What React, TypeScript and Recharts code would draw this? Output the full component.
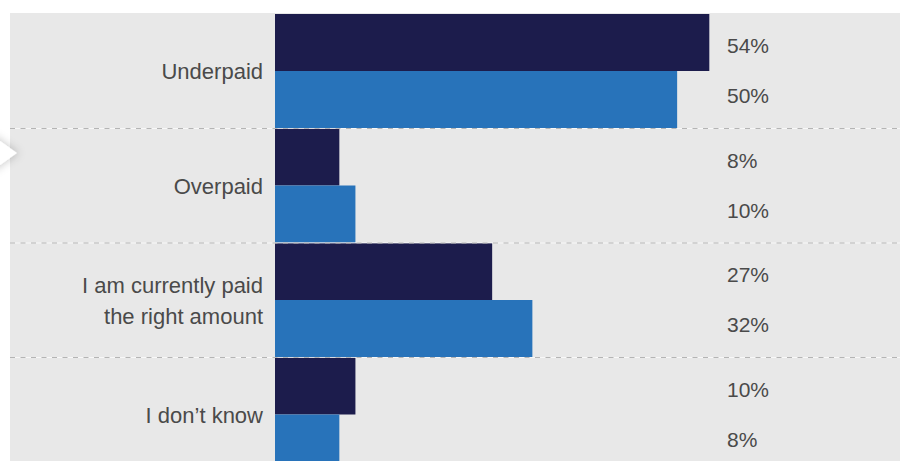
import { Bar, BarChart, LabelList, XAxis, YAxis } from "recharts";

const categories = [
  "Underpaid",
  "Overpaid",
  "I am currently paid\nthe right amount",
  "I don\u2019t know",
];
const darkValues = [54, 8, 27, 10];
const blueValues = [50, 10, 32, 8];

const DARK = "#1c1c4c";
const BLUE = "#2873ba";
const BG = "#e8e8e8";
const TEXT = "#4a4a4a";
const FONT = "'Liberation Sans', Arial, sans-serif";
const LABEL_X = 727;

const CHART_H = 472;
const MARGIN_TOP = 14;
const BAND = (CHART_H - MARGIN_TOP) / categories.length;

const rows = categories.map((category, i) => ({
  category,
  dark: darkValues[i],
  blue: blueValues[i],
}));

function CategoryTick({ x, y, payload, index }: any) {
  const lines = String(payload.value).split("\n");
  const lineHeight = 31;
  const top = y - BAND / 2;
  return (
    <g>
      {index > 0 && (
        <g>
          <line x1={10} x2={900} y1={top} y2={top} stroke="#ffffff" strokeOpacity={0.7} />
          <line x1={10} x2={900} y1={top} y2={top} stroke="#b4b4b4" strokeDasharray="5 5.5" />
        </g>
      )}
      {lines.map((line, i) => (
        <text
          key={i}
          x={x}
          y={y + (i - (lines.length - 1) / 2) * lineHeight}
          dy="0.36em"
          textAnchor="end"
          fill={TEXT}
          fontSize={22}
          fontFamily={FONT}
        >
          {line}
        </text>
      ))}
    </g>
  );
}

function valueLabel(shift: number) {
  return ({ y, height, value }: any) => (
    <text
      x={LABEL_X}
      y={Number(y) + Number(height) / 2 + shift}
      dy="0.36em"
      textAnchor="start"
      fill={TEXT}
      fontSize={21}
      fontFamily={FONT}
    >
      {value}%
    </text>
  );
}

export default function App() {
  return (
    <div
      style={{
        position: "absolute",
        left: 0,
        top: 0,
        width: 900,
        height: 461,
        overflow: "hidden",
        background: "#ffffff",
      }}
    >
      <div style={{ position: "absolute", left: 10, top: 13, right: 0, bottom: 0, background: BG }} />
      <svg width={40} height={461} style={{ position: "absolute", left: 0, top: 0 }}>
        <defs>
          <filter id="chev" x="-50%" y="-50%" width="200%" height="200%">
            <feDropShadow dx={2} dy={0} stdDeviation={4} floodColor="#000" floodOpacity={0.2} />
          </filter>
        </defs>
        <polygon points="-10,134 17,153 -10,172" fill="#ffffff" filter="url(#chev)" />
      </svg>
      <div style={{ position: "absolute", left: 0, top: 0 }}>
        <BarChart
          width={900}
          height={CHART_H}
          data={rows}
          layout="vertical"
          margin={{ top: MARGIN_TOP, right: 62, bottom: 0, left: 0 }}
          barCategoryGap={0}
          barGap={0}
        >
          <XAxis type="number" domain={[0, 70]} hide />
          <YAxis
            type="category"
            dataKey="category"
            width={275}
            axisLine={false}
            tickLine={false}
            tickSize={0}
            tickMargin={12}
            interval={0}
            tick={<CategoryTick />}
          />
          <Bar dataKey="dark" fill={DARK} isAnimationActive={false}>
            <LabelList dataKey="dark" content={valueLabel(3)} />
          </Bar>
          <Bar dataKey="blue" fill={BLUE} isAnimationActive={false}>
            <LabelList dataKey="blue" content={valueLabel(-3.7)} />
          </Bar>
        </BarChart>
      </div>
    </div>
  );
}
